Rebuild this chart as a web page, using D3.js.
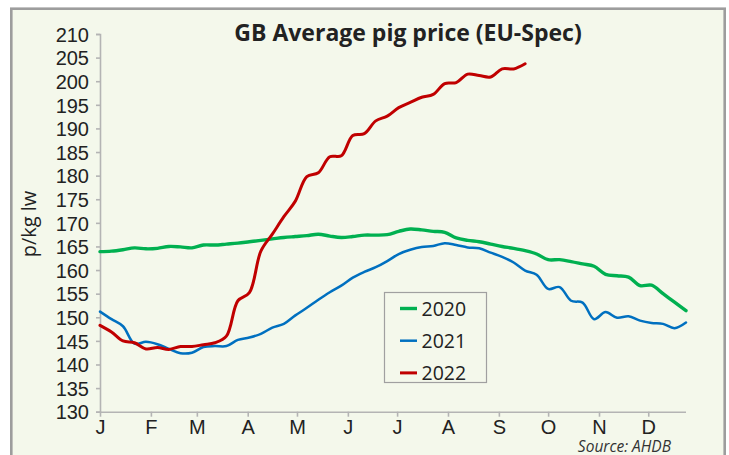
<!DOCTYPE html>
<meta charset='utf-8'>
<style>
  body { margin: 0; background: #fff; }
  svg { display: block; font-family: 'Open Sans', sans-serif; }
  .axis path, .axis line { stroke: #b4b4b4; }
  .axis text { fill: #222; font-size: 20px; }
</style>
<svg width='729' height='455'></svg>
<script src='https://cdn.jsdelivr.net/npm/d3@7'></script>
<script>
  // weekly prices, p/kg lw (week 0 = first week of Jan)
  var prices2020 = [163.9, 164.0, 164.3, 164.7, 164.5, 164.6, 165.0, 164.9, 164.7, 165.3,
    165.3, 165.5, 165.7, 166.0, 166.3, 166.6, 166.9, 167.1, 167.3, 167.6,
    167.2, 166.9, 167.1, 167.4, 167.4, 167.5, 168.2, 168.7, 168.5, 168.2,
    168.0, 166.8, 166.3, 166.0, 165.5, 165.0, 164.6, 164.1, 163.4, 162.2,
    162.2, 161.8, 161.3, 160.8, 159.1, 158.8, 158.5, 156.7, 156.8, 155.0,
    153.2, 151.4];
  var prices2021 = [151.2, 149.6, 148.1, 144.4, 144.8, 144.3, 143.3, 142.4, 142.5, 143.7,
    143.9, 143.9, 145.2, 145.7, 146.5, 147.8, 148.6, 150.4, 152.0, 153.7,
    155.3, 156.7, 158.4, 159.6, 160.6, 161.9, 163.4, 164.3, 164.9, 165.1,
    165.7, 165.3, 164.8, 164.6, 163.7, 162.8, 161.6, 159.9, 159.0, 156.0,
    156.4, 153.5, 153.1, 149.6, 151.1, 149.9, 150.2, 149.3, 148.8, 148.6,
    147.7, 148.9];
  var prices2022 = [148.3, 146.9, 145.0, 144.6, 143.3, 143.6, 143.2, 143.8, 143.8, 144.2,
    144.6, 146.0, 153.5, 155.2, 164.0, 167.6, 171.3, 174.6, 179.8, 180.6,
    184.0, 184.2, 188.5, 188.9, 191.6, 192.6, 194.4, 195.5, 196.6, 197.2,
    199.5, 199.7, 201.5, 201.2, 200.9, 202.6, 202.6, 203.7];

  var monthLabels = ['J', 'F', 'M', 'A', 'M', 'J', 'J', 'A', 'S', 'O', 'N', 'D'];
  var monthStartDays = [0, 31, 59, 90, 120, 151, 181, 212, 243, 273, 304, 334];
  var yTicks = d3.range(130, 211, 5);

  var series = [
    {name: '2020', values: prices2020, color: '#00b050', width: 3.4},
    {name: '2021', values: prices2021, color: '#0070c0', width: 2.5},
    {name: '2022', values: prices2022, color: '#c00000', width: 3}
  ];

  var svg = d3.select('svg');

  // outer frame
  svg.append('rect')
    .attr('x', 11.3).attr('y', 8.7)
    .attr('width', 713.4).attr('height', 460)
    .attr('fill', '#f4f8eb')
    .attr('stroke', '#9d9d9d')
    .attr('stroke-width', 2.6);

  var x = d3.scaleLinear().domain([0, 357]).range([100, 686]);
  var y = d3.scaleLinear().domain([130, 210]).range([411.7, 34]);

  svg.append('g')
    .attr('class', 'axis')
    .attr('transform', 'translate(100,0)')
    .call(d3.axisLeft(y).tickValues(yTicks).tickSize(4).tickPadding(7))
    .call(g => g.selectAll('text').attr('dy', '0.36em'));

  svg.append('g')
    .attr('class', 'axis')
    .attr('transform', 'translate(0,411.7)')
    .call(d3.axisBottom(x).tickValues(monthStartDays).tickSize(5).tickPadding(3)
      .tickFormat((d, i) => monthLabels[i]))
    .call(g => g.select('.domain').attr('d', 'M100,0.5H686'));

  svg.selectAll('.axis path, .axis line').attr('stroke-width', 1.6);

  var line = d3.line()
    .x((d, i) => x(i * 7))
    .y(d => y(d))
    .curve(d3.curveCatmullRom.alpha(0.5));

  svg.append('g').selectAll('path')
    .data(series)
    .enter().append('path')
      .attr('d', d => line(d.values))
      .attr('fill', 'none')
      .attr('stroke', d => d.color)
      .attr('stroke-width', d => d.width)
      .attr('stroke-linejoin', 'round')
      .attr('stroke-linecap', 'round');

  // title
  svg.append('text')
    .attr('x', 408).attr('y', 40.5)
    .attr('text-anchor', 'middle')
    .attr('font-size', 23)
    .attr('font-weight', 700)
    .attr('fill', '#222')
    .text('GB Average pig price (EU-Spec)');

  // y axis title
  svg.append('text')
    .attr('transform', 'translate(35.5,224) rotate(-90)')
    .attr('text-anchor', 'middle')
    .attr('font-size', 20)
    .attr('fill', '#222')
    .text('p/kg lw');

  // legend
  var legend = svg.append('g');
  legend.append('rect')
    .attr('x', 384.5).attr('y', 292.5)
    .attr('width', 102).attr('height', 90)
    .attr('fill', 'none')
    .attr('stroke', '#a0a0a0')
    .attr('stroke-width', 1.2);
  var items = legend.selectAll('g.item')
    .data(series)
    .enter().append('g')
      .attr('class', 'item')
      .attr('transform', (d, i) => 'translate(0,' + (308.5 + i * 32.2) + ')');
  items.append('line')
    .attr('x1', 400).attr('x2', 417)
    .attr('stroke', d => d.color)
    .attr('stroke-width', d => d.width);
  items.append('text')
    .attr('x', 421.5).attr('dy', '0.36em')
    .attr('font-size', 19.5)
    .attr('fill', '#222')
    .text(d => d.name);

  svg.append('text')
    .attr('x', 671).attr('y', 452)
    .attr('text-anchor', 'end')
    .attr('font-size', 15.5)
    .attr('font-style', 'italic')
    .attr('fill', '#333')
    .text('Source: AHDB');
</script>
